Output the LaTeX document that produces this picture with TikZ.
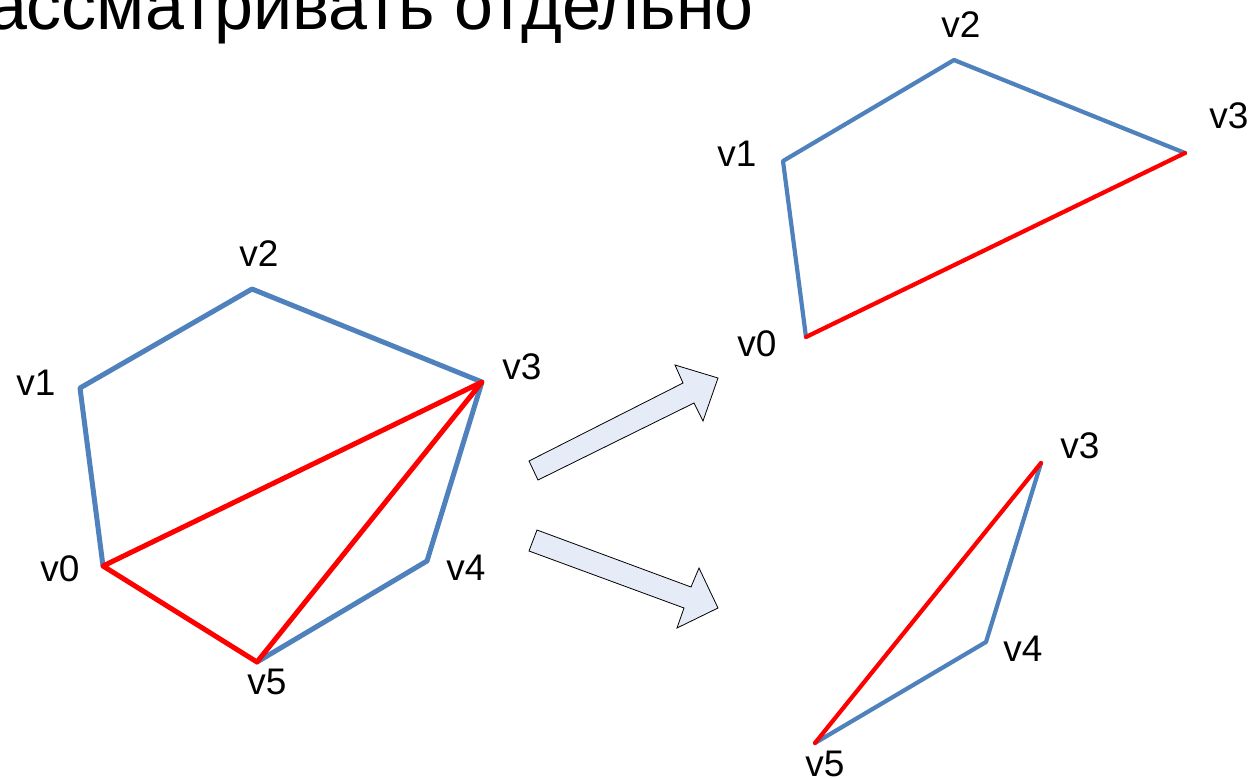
\documentclass[tikz,border=0pt]{standalone}
\usepackage{fontspec}
\setmainfont{Liberation Sans}
\definecolor{edgeblue}{HTML}{4F81BD}
\definecolor{edgered}{HTML}{FF0000}
\definecolor{arrowfill}{HTML}{E6ECF7}
\tikzset{
  blueedge/.style={draw=edgeblue, line width=5pt, line cap=round, line join=round},
  rededge/.style={draw=edgered, line width=5pt, line cap=round, line join=round},
  vlabel/.style={inner sep=0pt, font=\fontsize{37}{40}\selectfont},
  bigarrow/.style={draw=black, line width=0.8pt, fill=arrowfill, line join=miter}
}
\begin{document}
\begin{tikzpicture}[x=1pt, y=-1pt]
\useasboundingbox (0,0) rectangle (1253,779);
\clip (0,0) rectangle (1253,779);
\fill[white] (0,0) rectangle (1253,779);

% title (cut at top)
\node[inner sep=0pt, anchor=base east, font=\fontsize{70}{74}\selectfont] (title) at (754,29) {ассматривать отдельно};

% left hexagon
\coordinate (a0) at (103,566);
\coordinate (a1) at (80,388);
\coordinate (a2) at (252,289);
\coordinate (a3) at (482,382);
\coordinate (a4) at (427,561);
\coordinate (a5) at (257,662);
\draw[blueedge] (a0) -- (a1) -- (a2) -- (a3) -- (a4) -- (a5);
\draw[rededge] (a0) -- (a3) -- (a5) -- cycle;
\node[vlabel] (la0) at (60,569) {v0};
\node[vlabel] (la1) at (36,383) {v1};
\node[vlabel] (la2) at (259,254) {v2};
\node[vlabel] (la3) at (522,367) {v3};
\node[vlabel] (la4) at (466,568) {v4};
\node[vlabel] (la5) at (267,682) {v5};

% top right quadrilateral
\coordinate (b0) at (806,337);
\coordinate (b1) at (783,161);
\coordinate (b2) at (954,60);
\coordinate (b3) at (1185,153);
\draw[blueedge, line width=4.2pt] (b0) -- (b1) -- (b2) -- (b3);
\draw[rededge, line width=4.2pt] (b3) -- (b0);
\node[vlabel] (lb0) at (757,344) {v0};
\node[vlabel] (lb1) at (737,154) {v1};
\node[vlabel] (lb2) at (961,25) {v2};
\node[vlabel] (lb3) at (1229,116) {v3};

% bottom right triangle
\coordinate (c3) at (1041,463);
\coordinate (c4) at (986,642);
\coordinate (c5) at (815,743);
\draw[blueedge, line width=4.2pt] (c3) -- (c4) -- (c5);
\draw[rededge, line width=4.2pt] (c5) -- (c3);
\node[vlabel] (lc3) at (1080,446) {v3};
\node[vlabel] (lc4) at (1023,649) {v4};
\node[vlabel] (lc5) at (825,764) {v5};

% block arrows
\draw[bigarrow] (529,461) -- (683,383) -- (675,365) -- (718,378) -- (703,421) -- (694,403) -- (538,480) -- cycle;
\draw[bigarrow] (537,530) -- (691,587) -- (699,568) -- (718,608) -- (677,628) -- (684,608) -- (529,551) -- cycle;
\end{tikzpicture}
\end{document}
